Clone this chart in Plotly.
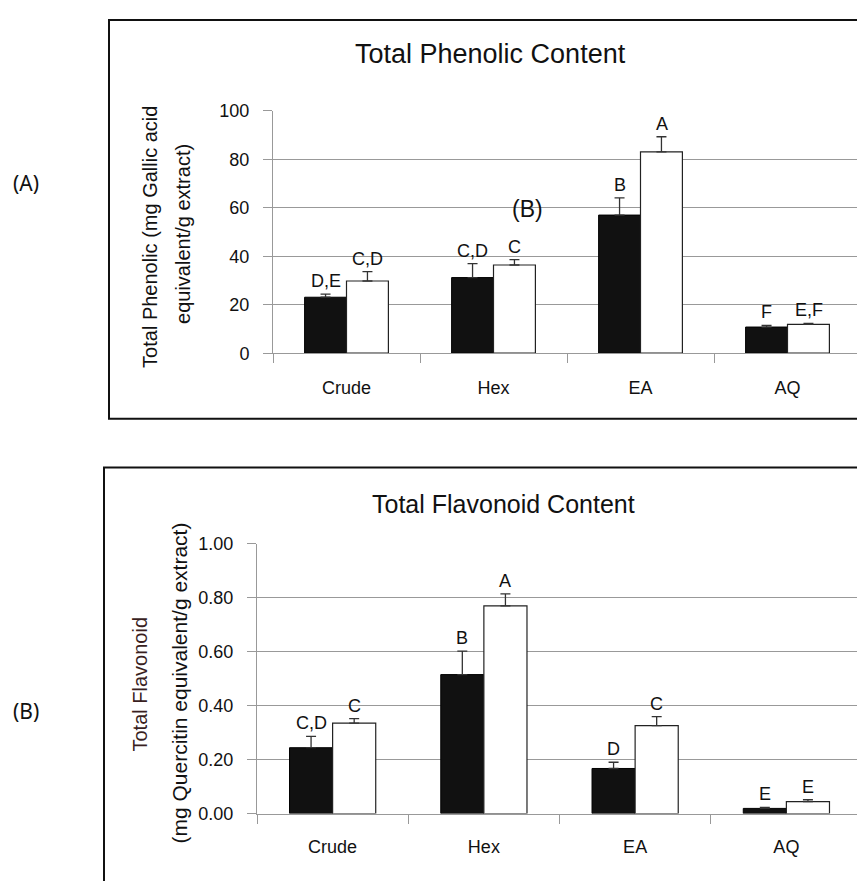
import plotly.graph_objects as go

OFF = 8  # page body margin
W, H = 865, 881

categories = ["Crude", "Hex", "EA", "AQ"]

# Total Phenolic Content
phenolic_black = [23.1, 31.2, 57.0, 10.8]
phenolic_black_err = [1.3, 5.8, 7.1, 0.7]
phenolic_white = [29.8, 36.4, 83.1, 11.9]
phenolic_white_err = [3.9, 2.2, 6.2, 0.4]
phenolic_black_letters = ["D,E", "C,D", "B", "F"]
phenolic_white_letters = ["C,D", "C", "A", "E,F"]
phenolic_ticks = [0, 20, 40, 60, 80, 100]

# Total Flavonoid Content
flav_black = [0.244, 0.515, 0.167, 0.019]
flav_black_err = [0.042, 0.087, 0.023, 0.004]
flav_white = [0.335, 0.770, 0.326, 0.044]
flav_white_err = [0.017, 0.044, 0.033, 0.007]
flav_black_letters = ["C,D", "B", "D", "E"]
flav_white_letters = ["C", "A", "C", "E"]
flav_ticks = [0.0, 0.2, 0.4, 0.6, 0.8, 1.0]

FONT = "Liberation Sans, Arial, sans-serif"


def px(x):
    return (x - OFF) / W


def py(y):
    return 1 - (y - OFF) / H


fig = go.Figure()


def add_bars(xa, ya, black, berr, white, werr):
    fig.add_trace(go.Bar(
        x=categories, y=black, xaxis=xa, yaxis=ya,
        marker=dict(color="#111111", line=dict(color="#000000", width=1)),
        error_y=dict(type="data", array=berr, arrayminus=[0] * len(berr), symmetric=False,
                     color="#333333", thickness=1.3, width=5),
        showlegend=False, offsetgroup="b"))
    fig.add_trace(go.Bar(
        x=categories, y=white, xaxis=xa, yaxis=ya,
        marker=dict(color="#ffffff", line=dict(color="#222222", width=1.2)),
        error_y=dict(type="data", array=werr, arrayminus=[0] * len(werr), symmetric=False,
                     color="#333333", thickness=1.3, width=5),
        showlegend=False, offsetgroup="w"))


add_bars("x", "y", phenolic_black, phenolic_black_err, phenolic_white, phenolic_white_err)
add_bars("x2", "y2", flav_black, flav_black_err, flav_white, flav_white_err)

grid = "#999999"
xcommon = dict(type="category", showgrid=False, ticks="outside", tickson="boundaries",
               ticklen=9, tickcolor=grid, showline=True, linecolor=grid, linewidth=1,
               tickfont=dict(family=FONT, size=18, color="#111111"), zeroline=False,
               fixedrange=True)
ycommon = dict(showgrid=True, gridcolor=grid, gridwidth=1, ticks="outside", ticklen=9,
               tickcolor=grid, showline=True, linecolor=grid, linewidth=1, zeroline=False,
               tickfont=dict(family=FONT, size=18, color="#111111"), fixedrange=True)

fig.update_layout(
    width=W, height=H, margin=dict(l=0, r=0, t=0, b=0),
    paper_bgcolor="white", plot_bgcolor="white",
    barmode="group", bargap=0.43, bargroupgap=0,
    xaxis=dict(xcommon, domain=[px(273), px(861)], anchor="y", ticklabelstandoff=18),
    yaxis=dict(ycommon, domain=[py(351), py(103)], range=[0, 100], anchor="x",
               tickvals=phenolic_ticks, ticktext=[str(v) for v in phenolic_ticks],
               ticklabelstandoff=10),
    xaxis2=dict(xcommon, domain=[px(257), px(862)], anchor="y2", ticklabelstandoff=17),
    yaxis2=dict(ycommon, domain=[py(822), py(546)], range=[0, 1.0], anchor="x2",
                tickvals=flav_ticks, ticktext=["%.2f" % v for v in flav_ticks],
                ticklabelstandoff=10),
)

ann = []
letter_font = dict(family=FONT, size=18, color="#111111")


def add_letters(xr, yr, black, berr, white, werr, bl, wl, shift):
    for i, c in enumerate(categories):
        ann.append(dict(x=c, y=black[i] + berr[i], xref=xr, yref=yr, text=bl[i],
                        showarrow=False, yanchor="bottom", xanchor="center",
                        xshift=-shift, yshift=1, font=letter_font))
        ann.append(dict(x=c, y=white[i] + werr[i], xref=xr, yref=yr, text=wl[i],
                        showarrow=False, yanchor="bottom", xanchor="center",
                        xshift=shift, yshift=1, font=letter_font))


add_letters("x", "y", phenolic_black, phenolic_black_err, phenolic_white, phenolic_white_err,
            phenolic_black_letters, phenolic_white_letters, 21)
add_letters("x2", "y2", flav_black, flav_black_err, flav_white, flav_white_err,
            flav_black_letters, flav_white_letters, 21.5)


def text_at(x, y, text, font, angle=0):
    ann.append(dict(x=px(x), y=py(y), xref="paper", yref="paper", text=text,
                    showarrow=False, xanchor="center", yanchor="middle",
                    textangle=angle, font=font))


# titles
text_at(490, 45, "Total Phenolic Content", dict(family=FONT, size=27, color="#111111"))
text_at(503, 505, "Total Flavonoid Content", dict(family=FONT, size=25, color="#111111"))

# y-axis titles
text_at(150, 232, "Total Phenolic (mg Gallic acid", dict(family=FONT, size=20, color="#111111"), -90)
text_at(183, 229, "equivalent/g extract)", dict(family=FONT, size=20, color="#111111"), -90)
text_at(140, 690, "Total Flavonoid", dict(family=FONT, size=20, color="#3a1f1f"), -90)
text_at(180, 689, "(mg Quercitin equivalent/g extract)", dict(family=FONT, size=21, color="#111111"), -90)

# stray label inside top chart
text_at(527, 203, "(B)", dict(family=FONT, size=23, color="#111111"))

# panel labels
text_at(26, 177, "(A)", dict(family="Noto Sans, sans-serif", size=21, color="#111111"))
text_at(26, 717, "(B)", dict(family="Noto Sans, sans-serif", size=21, color="#111111"))

fig.update_layout(annotations=ann)

# frames around the panels
fig.add_shape(type="rect", xref="paper", yref="paper", x0=px(109), y0=py(418), x1=px(880),
              y1=py(10), line=dict(color="#111111", width=2), layer="below")
fig.add_shape(type="rect", xref="paper", yref="paper", x0=px(104), y0=py(900), x1=px(880),
              y1=py(468), line=dict(color="#111111", width=2), layer="below")

fig.write_html("out.html")
